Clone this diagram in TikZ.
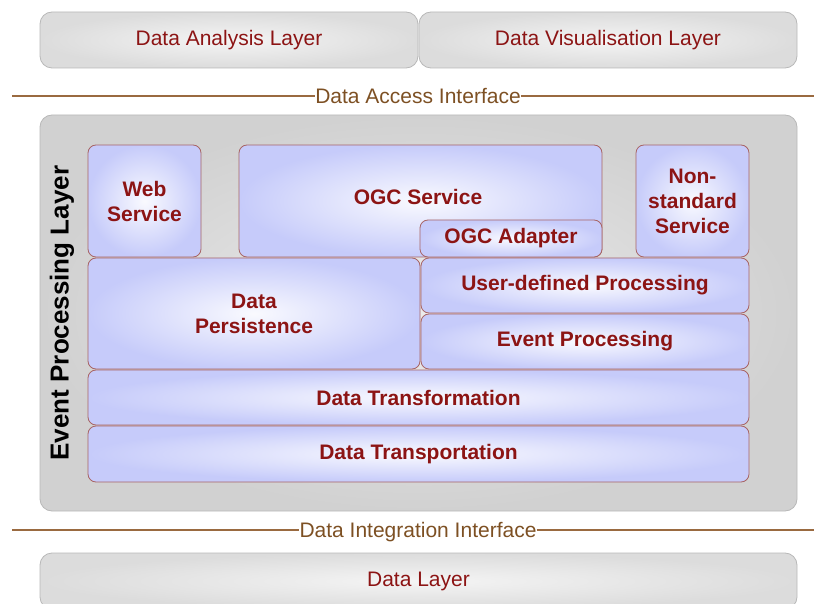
\documentclass[tikz,border=0pt]{standalone}
\usepackage{fontspec}
\setmainfont{Liberation Sans}
\definecolor{txtred}{HTML}{8C1414}
\definecolor{ifbrown}{HTML}{7D5023}
\definecolor{ifline}{HTML}{9A6A40}
\definecolor{greyedge}{HTML}{B8B8B8}
\definecolor{greyfill}{HTML}{DCDCDC}
\definecolor{blueedge}{HTML}{A86464}
\definecolor{bluefill}{HTML}{C6CBFA}
\begin{document}
\begin{tikzpicture}[
      x=1pt, y=-1pt,
      every node/.style={font=\fontsize{21}{25}\selectfont, align=center},
      layer/.style={draw=greyedge, line width=0.8pt, rounded corners=12pt,
        inner color=white!70!greyfill, outer color=greyfill, text=txtred},
      comp/.style={draw=blueedge, line width=0.8pt, rounded corners=8pt,
        inner color=white!90!bluefill, outer color=bluefill,
        text=txtred, font=\fontsize{21}{25}\selectfont\bfseries},
      iface/.style={text=ifbrown, inner sep=0pt, text depth=0pt},
      ifline/.style={draw=ifline, line width=1.6pt}]
    \path[use as bounding box, clip] (0,0) rectangle (814,604);

    % upper layers
    \node[layer, minimum width=378, minimum height=56] (ana) at (229, 40) {Data Analysis Layer};
    \node[layer, minimum width=378, minimum height=56] (vis) at (608, 40) {Data Visualisation Layer};

    \node[iface] (dai) at (418, 96) {Data Access Interface};
    \coordinate (dail) at (12, 96);
    \coordinate (dair) at (814, 96);
    \draw[ifline] (dail) -- (dai.west);
    \draw[ifline] (dai.east) -- (dair);

    % event processing layer
    \node[layer, inner color=greyfill!55!white, outer color=greyfill!95!black,
      minimum width=757, minimum height=396] (epl) at (418.5, 313) {};
    \node[rotate=90, font=\fontsize{26}{30}\selectfont\bfseries] (eplt) at (62, 313) {Event Processing Layer};

    \node[comp, minimum width=113, minimum height=112] (web) at (144.5, 201) {Web\\Service};
    \node[comp, minimum width=363, minimum height=112] (ogc) at (420.5, 201) {};
    \node[text=txtred, font=\fontsize{21}{25}\selectfont\bfseries] (ogct) at (418, 197) {OGC Service};
    \node[comp, minimum width=182, minimum height=37] (adp) at (511, 238.5) {OGC Adapter};
    \node[comp, minimum width=113, minimum height=112] (non) at (692.5, 201) {Non-\\standard\\Service};

    \node[comp, minimum width=332, minimum height=111] (per) at (254, 313.5) {Data\\Persistence};
    \node[comp, minimum width=328, minimum height=55] (udp) at (585, 285.5) {User-defined Processing};
    \node[comp, minimum width=328, minimum height=55] (evp) at (585, 341.5) {Event Processing};

    \node[comp, minimum width=661, minimum height=55] (trf) at (418.5, 397.5) {Data Transformation};
    \node[comp, minimum width=661, minimum height=56] (trp) at (418.5, 454) {Data Transportation};

    \node[iface] (dii) at (418, 530) {Data Integration Interface};
    \coordinate (diil) at (12, 530);
    \coordinate (diir) at (814, 530);
    \draw[ifline] (diil) -- (dii.west);
    \draw[ifline] (dii.east) -- (diir);

    % bottom layer
    \node[layer, minimum width=757, minimum height=56] (lay) at (418.5, 581) {Data Layer};

  \end{tikzpicture}
\end{document}
